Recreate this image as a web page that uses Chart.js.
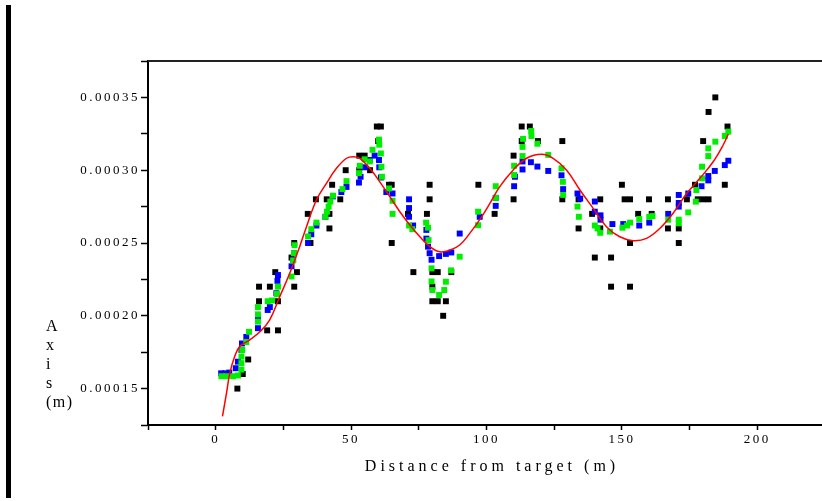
<!DOCTYPE html>
<html>
<head>
<meta charset="utf-8">
<title>Distance from target</title>
<script src="https://cdn.jsdelivr.net/npm/chart.js@4.4.1/dist/chart.umd.min.js"></script>
<style>
  html, body { margin: 0; padding: 0; background: #fff; overflow: hidden; }
  #wrap { position: absolute; left: 0; top: 0; width: 840px; height: 501px; }
  #bar { position: absolute; left: 6px; top: 5px; width: 5px; height: 493px; background: #000; }
</style>
</head>
<body>
<div id="wrap"><canvas id="myChart"></canvas></div>
<div id="bar"></div>
<script>
// --- Data (distance in m, axis in m) ---
const xTitle = 'Distance from target (m)';
const yTitle = ['A', 'x', 'i', 's', '(m)'];

const blackDist = [8, 10, 12, 16, 16, 19, 20, 22, 23, 23,
  28, 29, 29, 30, 35, 34, 37, 41, 42, 42,
  43, 46, 48, 53, 55, 53, 57, 59.5, 61, 60,
  64, 65, 65, 71, 73, 79, 79, 78, 80, 82,
  80, 80, 82, 85, 84, 87, 97, 103, 110, 110,
  113, 113, 116, 119, 128, 128, 134, 134, 139, 142,
  142, 140, 146, 146, 153, 150, 151, 153, 153, 156,
  160, 161, 167, 167, 171, 171, 174, 177, 178, 180,
  182, 180, 182, 184.5, 188, 189];
const blackAxis = [15e-5, 16e-5, 17e-5, 22e-5, 21e-5, 19e-5, 22e-5, 23e-5, 21e-5, 19e-5,
  24e-5, 25e-5, 22e-5, 23e-5, 25e-5, 27e-5, 28e-5, 28e-5, 27e-5, 26e-5,
  29e-5, 28e-5, 30e-5, 31e-5, 31e-5, 30e-5, 30e-5, 33e-5, 33e-5, 32e-5,
  29e-5, 29e-5, 25e-5, 27e-5, 23e-5, 29e-5, 28e-5, 27e-5, 23e-5, 23e-5,
  22e-5, 21e-5, 21e-5, 21e-5, 20e-5, 23e-5, 29e-5, 27e-5, 28e-5, 31e-5,
  33e-5, 32e-5, 33e-5, 32e-5, 32e-5, 28e-5, 28e-5, 26e-5, 27e-5, 28e-5,
  26e-5, 24e-5, 24e-5, 22e-5, 22e-5, 29e-5, 28e-5, 28e-5, 25e-5, 27e-5,
  28e-5, 27e-5, 28e-5, 26e-5, 26e-5, 25e-5, 28e-5, 29e-5, 28e-5, 28e-5,
  28e-5, 32e-5, 34e-5, 35e-5, 29e-5, 33e-5];

const blueDist = [2, 3.5, 5, 7.4, 8.2, 9.5, 9.7, 11.3, 15.6, 15.6,
  19.2, 20, 22.4, 22.8, 23, 28, 28.6, 28.9, 34.1, 35.3,
  37.2, 40.5, 43.3, 46.4, 48.3, 52.9, 53.5, 55, 56.9, 58.7,
  60.3, 60.4, 61, 63, 65.3, 71.4, 71.4, 71.4, 72.9, 77.8,
  77.8, 78.4, 79, 79.7, 82.5, 85, 87, 90.1, 97.5, 103.4,
  103.4, 110.2, 110.5, 113.3, 113.3, 116.4, 118.8, 122.8, 127.7, 128.3,
  133.6, 134.6, 140, 140, 142.1, 142.1, 146.5, 150.5, 156.4, 160.1,
  167.1, 171, 171, 171, 174.5, 179.4, 181.9, 181.9, 184.3, 188,
  189.3];
const blueAxis = [16.05e-5, 16.05e-5, 16.1e-5, 16.4e-5, 16.85e-5, 17.65e-5, 18.1e-5, 18.55e-5, 19.15e-5, 19.9e-5,
  20.4e-5, 20.6e-5, 21.55e-5, 22.4e-5, 22.8e-5, 23.4e-5, 23.85e-5, 24.3e-5, 25.0e-5, 25.6e-5,
  26.2e-5, 26.8e-5, 28.2e-5, 28.5e-5, 28.85e-5, 29.15e-5, 29.55e-5, 30.2e-5, 30.7e-5, 31.0e-5,
  30.7e-5, 30.2e-5, 29.5e-5, 28.5e-5, 28.4e-5, 28.0e-5, 27.4e-5, 26.8e-5, 26.2e-5, 25.9e-5,
  25.3e-5, 24.75e-5, 24.3e-5, 23.85e-5, 24.1e-5, 24.25e-5, 24.35e-5, 25.65e-5, 26.8e-5, 27.55e-5,
  28.1e-5, 28.9e-5, 29.55e-5, 30.05e-5, 30.6e-5, 30.55e-5, 30.25e-5, 29.95e-5, 29.65e-5, 28.7e-5,
  28.4e-5, 28.05e-5, 27.85e-5, 27.15e-5, 26.9e-5, 26.6e-5, 26.3e-5, 26.3e-5, 26.2e-5, 26.4e-5,
  27.0e-5, 27.5e-5, 27.75e-5, 28.3e-5, 28.4e-5, 28.9e-5, 29.3e-5, 29.6e-5, 29.95e-5, 30.35e-5,
  30.65e-5];

const greenDist = [2.1, 4, 6.4, 8.2, 9.5, 9.5, 9.5, 9.8, 11.3, 12.3,
  15.6, 15.6, 15.6, 19.2, 20.8, 22.6, 23, 28, 28.6, 28.9,
  29.1, 34.1, 35.3, 37.2, 40.5, 41.1, 41.7, 42.3, 43.3, 46.8,
  48.3, 52.9, 53.2, 55, 56.9, 57.9, 60.3, 60.4, 61, 61.2,
  61.4, 64, 65.3, 65.3, 71.4, 72.6, 77.7, 78.4, 78.6, 79.7,
  79.7, 80, 82.5, 84.4, 85, 86.9, 90.1, 96.9, 96.9, 103.4,
  103.4, 110.2, 110.2, 113.3, 113.3, 113.5, 116.5, 116.6, 118.8, 122.8,
  127.7, 128.2, 128.3, 133.6, 134.1, 140, 141, 142, 145.6, 150.2,
  151.9, 153, 156.4, 160.1, 161.3, 167.1, 171, 171, 174.5, 177.3,
  177.5, 179.6, 179.6, 181.9, 181.9, 184.5, 188, 189.3];
const greenAxis = [15.85e-5, 15.85e-5, 15.85e-5, 15.9e-5, 16.3e-5, 16.75e-5, 17.2e-5, 17.65e-5, 18.2e-5, 18.9e-5,
  19.6e-5, 20.1e-5, 20.6e-5, 21.0e-5, 21.05e-5, 21.5e-5, 22.0e-5, 22.7e-5, 23.8e-5, 24.3e-5,
  24.85e-5, 25.45e-5, 25.95e-5, 26.4e-5, 26.8e-5, 27.15e-5, 27.5e-5, 27.85e-5, 28.25e-5, 28.7e-5,
  29.25e-5, 29.8e-5, 30.3e-5, 30.75e-5, 30.6e-5, 31.4e-5, 32.1e-5, 31.75e-5, 31.15e-5, 30.24e-5,
  29.55e-5, 28.75e-5, 27.9e-5, 27.0e-5, 26.2e-5, 25.95e-5, 26.4e-5, 26.05e-5, 25.2e-5, 23.26e-5,
  22.36e-5, 21.77e-5, 21.43e-5, 21.77e-5, 22.34e-5, 23.12e-5, 24.06e-5, 27.15e-5, 26.22e-5, 28.9e-5,
  28.1e-5, 30.3e-5, 29.67e-5, 30.97e-5, 31.6e-5, 32.15e-5, 32.7e-5, 32.35e-5, 31.82e-5, 31.05e-5,
  30.13e-5, 29.2e-5, 28.3e-5, 27.5e-5, 26.8e-5, 26.2e-5, 26.0e-5, 25.7e-5, 25.78e-5, 26.05e-5,
  26.2e-5, 26.4e-5, 26.65e-5, 26.8e-5, 26.85e-5, 26.6e-5, 26.6e-5, 26.35e-5, 27.1e-5, 27.84e-5,
  28.64e-5, 29.44e-5, 30.24e-5, 30.97e-5, 31.5e-5, 31.96e-5, 32.35e-5, 32.65e-5];

// fitted curve
const fitDist = [2.5, 4, 5.2, 7, 8.9, 12.6, 16.3, 19.9, 23.6, 27.3,
  31, 33.5, 37.2, 40.9, 44.6, 48.3, 50.7, 53.2, 56.9, 60.6,
  64.3, 68, 71.7, 75.4, 79.1, 82.7, 86.4, 90.1, 93.8, 97.5,
  101.2, 104.9, 109.8, 114.8, 120.3, 124.6, 129.6, 134.5, 139.4, 144.3,
  149.2, 154.2, 159.1, 164, 168.9, 173.9, 178.8, 183.7, 187.4, 189.3];
const fitAxis = [13.1e-5, 14.7e-5, 16.05e-5, 17.2e-5, 17.9e-5, 18.35e-5, 18.9e-5, 19.7e-5, 21.3e-5, 22.9e-5,
  24.75e-5, 26.1e-5, 27.95e-5, 29.1e-5, 30.13e-5, 30.82e-5, 30.93e-5, 30.82e-5, 30.13e-5, 29.2e-5,
  28.18e-5, 27.15e-5, 26.24e-5, 25.43e-5, 24.75e-5, 24.4e-5, 24.5e-5, 24.86e-5, 25.66e-5, 26.6e-5,
  27.7e-5, 28.87e-5, 30.0e-5, 30.82e-5, 31.09e-5, 30.82e-5, 30.0e-5, 28.64e-5, 27.38e-5, 26.12e-5,
  25.43e-5, 25.16e-5, 25.32e-5, 26.0e-5, 27.04e-5, 28.4e-5, 29.44e-5, 30.58e-5, 31.73e-5, 32.49e-5];

const xTicks = [-25, 0, 25, 50, 75, 100, 125, 150, 175, 200, 225];
const xLabelled = [0, 50, 100, 150, 200];
const yLabelled = ['0.00015', '0.00020', '0.00025', '0.00030', '0.00035'];

const toPoints = (xs, ys) => xs.map((x, i) => ({ x: x, y: ys[i] }));

// --- Frame, top border and hand placed axis titles ---
const frameText = {
  id: 'frameText',
  beforeDraw(chart) {
    chart.ctx.letterSpacing = '2.5px';
  },
  afterDraw(chart) {
    const { ctx, chartArea } = chart;
    ctx.save();
    ctx.strokeStyle = '#222';
    ctx.lineWidth = 2;
    ctx.beginPath();
    ctx.moveTo(chartArea.left, chartArea.top);
    ctx.lineTo(chartArea.right, chartArea.top);
    ctx.stroke();

    ctx.fillStyle = '#000';
    ctx.textBaseline = 'middle';
    ctx.textAlign = 'center';
    ctx.font = '16px "Liberation Serif"';
    ctx.letterSpacing = '4px';
    ctx.fillText(xTitle, 492, 467);

    ctx.textAlign = 'left';
    ctx.letterSpacing = '1.5px';
    yTitle.forEach((s, i) => ctx.fillText(s, 46, 327 + i * 19));
    ctx.restore();
  }
};

const ctx = document.getElementById('myChart').getContext('2d');

const chart = new Chart(ctx, {
  type: 'scatter',
  data: {
    datasets: [
      {
        label: 'fit',
        data: toPoints(fitDist, fitAxis),
        showLine: true,
        borderColor: '#ff0000',
        borderWidth: 1.5,
        pointRadius: 0,
        tension: 0.4,
        fill: false
      },
      {
        label: 'green',
        data: toPoints(greenDist, greenAxis),
        pointStyle: 'rect',
        pointRadius: 4.2,
        borderWidth: 0,
        backgroundColor: '#00ee00'
      },
      {
        label: 'blue',
        data: toPoints(blueDist, blueAxis),
        pointStyle: 'rect',
        pointRadius: 4.2,
        borderWidth: 0,
        backgroundColor: '#0000ff'
      },
      {
        label: 'black',
        data: toPoints(blackDist, blackAxis),
        pointStyle: 'rect',
        pointRadius: 4.2,
        borderWidth: 0,
        backgroundColor: '#000000'
      }
    ]
  },
  options: {
    responsive: true,
    maintainAspectRatio: false,
    animation: false,
    layout: { padding: { top: 61, right: 15, bottom: 0, left: 0 } },
    plugins: {
      legend: { display: false },
      tooltip: { enabled: false }
    },
    scales: {
      x: {
        type: 'linear',
        min: -25,
        max: 225,
        afterBuildTicks: (scale) => { scale.ticks = xTicks.map(v => ({ value: v })); },
        afterFit: (scale) => { scale.height = 76; },
        grid: { drawOnChartArea: false, drawTicks: true, tickLength: 5, tickWidth: 1.5, tickColor: '#000' },
        border: { display: true, color: '#000', width: 2 },
        ticks: {
          autoSkip: false,
          maxRotation: 0,
          padding: 2,
          color: '#000',
          font: { family: '"Liberation Serif"', size: 13 },
          callback: (v) => xLabelled.includes(v) ? String(v) : ''
        }
      },
      y: {
        type: 'linear',
        min: 12.5e-5,
        max: 37.5e-5,
        afterBuildTicks: (scale) => {
          const t = [];
          for (let k = 5; k <= 15; k++) t.push({ value: k * 2.5e-5 });
          scale.ticks = t;
        },
        afterFit: (scale) => { scale.width = 148; },
        grid: { drawOnChartArea: false, drawTicks: true, tickLength: 7, tickWidth: 1.5, tickColor: '#000' },
        border: { display: true, color: '#000', width: 2 },
        ticks: {
          autoSkip: false,
          padding: 1,
          color: '#000',
          font: { family: '"Liberation Serif"', size: 13 },
          callback: (v) => {
            const s = v.toFixed(5);
            return yLabelled.includes(s) ? s : '';
          }
        }
      }
    }
  },
  plugins: [frameText]
});
</script>
</body>
</html>
